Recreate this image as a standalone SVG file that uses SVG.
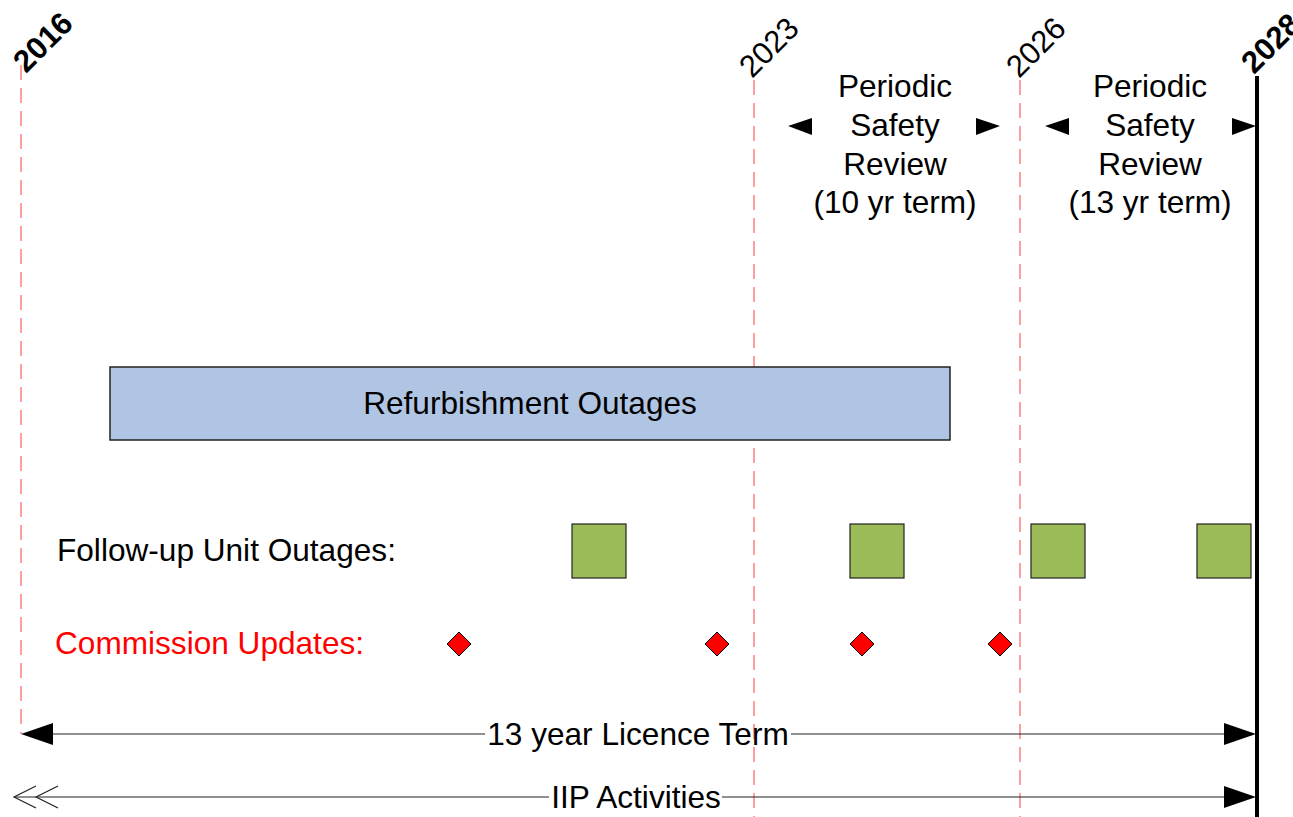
<svg xmlns="http://www.w3.org/2000/svg" width="1293" height="817" viewBox="0 0 1293 817">
  <style>
    text { font-family: "Liberation Sans", Arial, sans-serif; font-size: 31.6px; fill: #000; }
    .year { font-size: 31px; }
    .bold { font-weight: bold; }
    .mid { text-anchor: middle; }
    .red { fill: #ff0000; }
    .guide { stroke: #ff7f7f; stroke-width: 1.5; stroke-dasharray: 15 8; fill: none; }
    .axis { stroke: #000; stroke-width: 4; }
    .conn { stroke: #222; stroke-width: 1.2; fill: none; }
    .head { fill: #000; }
    .refurb { fill: #b0c5e3; stroke: #222; stroke-width: 1.5; }
    .unit { fill: #9bbb59; stroke: #222; stroke-width: 1.2; }
    .update { fill: #ff0000; stroke: #000; stroke-width: 1; }
  </style>

  <!-- year guide lines -->
  <g id="guides">
    <line class="guide" x1="21" y1="65" x2="21" y2="734"/>
    <line class="guide" x1="754" y1="80" x2="754" y2="817"/>
    <line class="guide" x1="1020" y1="80" x2="1020" y2="817"/>
    <line class="axis" x1="1257" y1="76" x2="1257" y2="817"/>
  </g>

  <!-- year labels -->
  <g id="years">
    <text class="year bold" x="26" y="74" transform="rotate(-45 26 74)">2016</text>
    <text class="year" x="752" y="79" transform="rotate(-45 752 79)">2023</text>
    <text class="year" x="1019" y="79" transform="rotate(-45 1019 79)">2026</text>
    <text class="year bold" x="1254" y="75" transform="rotate(-45 1254 75)">2028</text>
  </g>

  <!-- periodic safety review spans -->
  <g id="psr-10">
    <polygon class="head" points="788,126 812,118 812,135"/>
    <polygon class="head" points="1000,126 976,118 976,135"/>
    <text class="mid" x="895" y="97">Periodic</text>
    <text class="mid" x="895" y="136">Safety</text>
    <text class="mid" x="895" y="175">Review</text>
    <text class="mid" x="895" y="213">(10 yr term)</text>
  </g>
  <g id="psr-13">
    <polygon class="head" points="1045,126 1069,118 1069,135"/>
    <polygon class="head" points="1256,126 1232,118 1232,135"/>
    <text class="mid" x="1150" y="97">Periodic</text>
    <text class="mid" x="1150" y="136">Safety</text>
    <text class="mid" x="1150" y="175">Review</text>
    <text class="mid" x="1150" y="213">(13 yr term)</text>
  </g>

  <!-- refurbishment block -->
  <g id="refurbishment">
    <rect class="refurb" x="110" y="367" width="840" height="73"/>
    <text class="mid" x="530" y="414">Refurbishment Outages</text>
  </g>

  <!-- follow-up unit outages -->
  <g id="unit-outages">
    <text x="57" y="561">Follow-up Unit Outages:</text>
    <rect class="unit" x="572" y="524" width="54" height="54"/>
    <rect class="unit" x="850" y="524" width="54" height="54"/>
    <rect class="unit" x="1031" y="524" width="54" height="54"/>
    <rect class="unit" x="1197" y="524" width="54" height="54"/>
  </g>

  <!-- commission updates -->
  <g id="commission-updates">
    <text class="red" x="55" y="654">Commission Updates:</text>
    <polygon class="update" points="459,632 471,644 459,656 447,644"/>
    <polygon class="update" points="717,632 729,644 717,656 705,644"/>
    <polygon class="update" points="862,632 874,644 862,656 850,644"/>
    <polygon class="update" points="1000,632 1012,644 1000,656 988,644"/>
  </g>

  <!-- term connectors -->
  <g id="connectors">
    <line class="conn" x1="50" y1="734" x2="485" y2="734"/>
    <line class="conn" x1="791" y1="734" x2="1226" y2="734"/>
    <polygon class="head" points="21,734 53,723 53,745"/>
    <polygon class="head" points="1256,734 1224,723 1224,745"/>
    <text class="mid" x="638" y="745">13 year Licence Term</text>

    <line class="conn" x1="14" y1="797" x2="549" y2="797"/>
    <line class="conn" x1="722" y1="797" x2="1226" y2="797"/>
    <polyline class="conn" points="36,786 14,797 36,808"/>
    <polyline class="conn" points="58,786 36,797 58,808"/>
    <polygon class="head" points="1256,797 1224,786 1224,808"/>
    <text class="mid" x="636" y="808">IIP Activities</text>
  </g>
</svg>
